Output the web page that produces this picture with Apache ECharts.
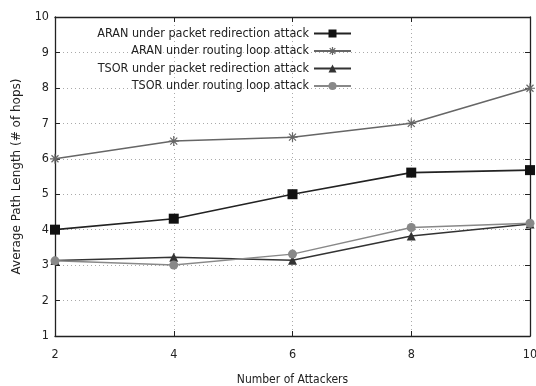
<!DOCTYPE html>
<html>
<head>
<meta charset="utf-8">
<title>Average Path Length</title>
<script src="https://cdn.jsdelivr.net/npm/echarts@6/dist/echarts.min.js"></script>
<style>
  html, body { margin: 0; padding: 0; background: #fff; }
  #main { width: 536px; height: 386px; }
</style>
</head>
<body>
<div id="main"></div>
<script type="text/javascript">
// number of attackers (x axis)
var attackers = [2, 4, 6, 8, 10];
// average path length per series
var aranRedirect = [4.0, 4.31, 5.0, 5.61, 5.68];
var aranLoop = [6.0, 6.5, 6.61, 7.0, 7.99];
var tsorRedirect = [3.13, 3.22, 3.14, 3.82, 4.16];
var tsorLoop = [3.12, 3.0, 3.31, 4.06, 4.18];
var seriesNames = [
  'ARAN under packet redirection attack',
  'ARAN under routing loop attack',
  'TSOR under packet redirection attack',
  'TSOR under routing loop attack'
];

function pairs(ys) {
  return attackers.map(function (x, i) { return [x, ys[i]]; });
}

var font = 'DejaVu Sans Condensed, DejaVu Sans, sans-serif';
var asterisk = 'path://M0,5L10,5M5,0L5,10M1.5,1.5L8.5,8.5M1.5,8.5L8.5,1.5';

var myChart = echarts.init(document.getElementById('main'));

var option = {
  backgroundColor: '#fff',
  animation: false,
  textStyle: { fontFamily: font },
  grid: { left: 55, right: 6, top: 17, bottom: 50, outerBoundsMode: 'none', containLabel: false },
  legend: {
    orient: 'vertical',
    align: 'right',
    right: 179,
    top: 22,
    itemWidth: 37,
    itemHeight: 10,
    itemGap: 4.5,
    textStyle: { fontFamily: font, fontSize: 12.5, color: '#222' },
    data: [
      seriesNames[0],
      { name: seriesNames[1], itemStyle: { color: '#666', borderColor: '#666', borderWidth: 1.2 } },
      seriesNames[2],
      seriesNames[3]
    ]
  },
  xAxis: [{
    type: 'value',
    min: 2, max: 10, interval: 2,
    name: 'Number of Attackers',
    nameLocation: 'middle',
    nameGap: 38,
    nameTextStyle: { fontFamily: font, fontSize: 12, color: '#222' },
    axisLine: { lineStyle: { color: '#222', width: 1.3 } },
    axisTick: { inside: true, length: 5, lineStyle: { color: '#222' } },
    axisLabel: { margin: 12, fontSize: 12.5, color: '#222', fontFamily: font },
    splitLine: { show: true, lineStyle: { color: '#aaa', type: [1, 3] } }
  }, {
    type: 'value',
    position: 'top',
    min: 2, max: 10, interval: 2,
    axisLine: { lineStyle: { color: '#222', width: 1.3 } },
    axisTick: { inside: true, length: 5, lineStyle: { color: '#222' } },
    axisLabel: { show: false },
    splitLine: { show: false }
  }],
  yAxis: [{
    type: 'value',
    min: 1, max: 10, interval: 1,
    name: 'Average Path Length (# of hops)',
    nameLocation: 'middle',
    nameGap: 32,
    nameTextStyle: { fontFamily: 'DejaVu Sans, sans-serif', fontSize: 12, color: '#222' },
    axisLine: { show: true, lineStyle: { color: '#222', width: 1.3 } },
    axisTick: { show: true, inside: true, length: 5, lineStyle: { color: '#222' } },
    axisLabel: { margin: 6, fontSize: 12.5, color: '#222', fontFamily: font },
    splitLine: { show: true, lineStyle: { color: '#aaa', type: [1, 3] } }
  }, {
    type: 'value',
    position: 'right',
    min: 1, max: 10, interval: 1,
    axisLine: { show: true, lineStyle: { color: '#222', width: 1.3 } },
    axisTick: { show: true, inside: true, length: 5, lineStyle: { color: '#222' } },
    axisLabel: { show: false },
    splitLine: { show: false }
  }],
  series: [{
    name: seriesNames[0],
    type: 'line',
    data: pairs(aranRedirect),
    symbol: 'rect',
    symbolSize: 10,
    lineStyle: { color: '#222', width: 1.6 },
    itemStyle: { color: '#111' }
  }, {
    name: seriesNames[1],
    type: 'line',
    data: pairs(aranLoop),
    symbol: asterisk,
    symbolSize: 10,
    lineStyle: { color: '#666', width: 1.5 },
    itemStyle: { color: '#666', borderColor: '#666', borderWidth: 1.2 }
  }, {
    name: seriesNames[2],
    type: 'line',
    data: pairs(tsorRedirect),
    symbol: 'triangle',
    symbolSize: 9,
    lineStyle: { color: '#333', width: 1.5 },
    itemStyle: { color: '#333' }
  }, {
    name: seriesNames[3],
    type: 'line',
    data: pairs(tsorLoop),
    symbol: 'circle',
    symbolSize: 9,
    lineStyle: { color: '#888', width: 1.5 },
    itemStyle: { color: '#888' }
  }]
};

myChart.setOption(option);
</script>
</body>
</html>
